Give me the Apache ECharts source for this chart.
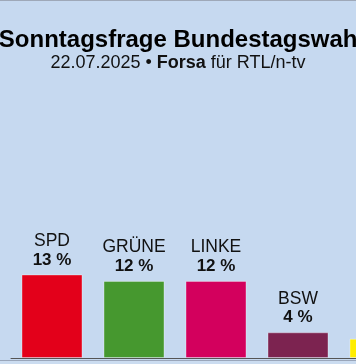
<!DOCTYPE html>
<html>
<head>
<meta charset="utf-8">
<script src="https://cdn.jsdelivr.net/npm/echarts@6/dist/echarts.min.js"></script>
<style>
html,body{margin:0;padding:0;background:#c6d9f0;overflow:hidden;width:356px;height:364px;}
#c{width:421px;height:364px;}
</style>
</head>
<body>
<div id="c"></div>
<script>
const titleText = 'Sonntagsfrage Bundestagswahl';
const subtitleDate = '22.07.2025 • ';
const subtitleInst = 'Forsa';
const subtitleRest = ' für RTL/n-tv';
const parties = ['SPD', 'GRÜNE', 'LINKE', 'BSW', 'FDP'];
const values = [13, 12, 12, 4, 3];
const colors = ['#e3001a', '#46982f', '#d3005d', '#7c2350', '#ffed00'];

const font = '"Liberation Sans", Arial, sans-serif';
const chart = echarts.init(document.getElementById('c'), null, {renderer: 'canvas'});
chart.setOption({
  backgroundColor: '#c6d9f0',
  animation: false,
  graphic: [
    {type: 'rect', shape: {x: 0, y: 0, width: 421, height: 1}, style: {fill: '#9ea8b8'}},
    {type: 'rect', shape: {x: 0, y: 360, width: 421, height: 1}, style: {fill: '#9aa6ba'}},
    {type: 'rect', shape: {x: 0, y: 361, width: 421, height: 3}, style: {fill: '#cbdcf0'}},
    {type: 'text', x: 181.5, y: 28, style: {text: titleText, font: 'bold 24px ' + font, fill: '#000', align: 'center', verticalAlign: 'alphabetic'}},
    {type: 'text', x: 178, y: 54, style: {
      text: subtitleDate + '{b|' + subtitleInst + '}' + subtitleRest,
      font: '18px ' + font, fill: '#111', align: 'center', verticalAlign: 'alphabetic',
      rich: {b: {font: 'bold 18px ' + font, fill: '#111'}}
    }}
  ],
  grid: {left: 11, right: 0, top: 101, bottom: 6, containLabel: false},
  xAxis: {
    type: 'category', data: parties,
    axisLine: {show: true, lineStyle: {color: '#555', width: 1}},
    axisTick: {show: false}, axisLabel: {show: false}
  },
  yAxis: {type: 'value', min: 0, max: 40, show: false, splitLine: {show: false}},
  series: [{
    type: 'bar',
    data: values.map((v, i) => ({value: v, itemStyle: {color: colors[i]}})),
    barWidth: 61,
    itemStyle: {borderColor: 'rgba(255,255,255,0.35)', borderWidth: 1},
    label: {
      show: true, position: 'top', distance: 5,
      formatter: p => '{n|' + parties[p.dataIndex] + '}\n{v|' + values[p.dataIndex] + ' %}',
      rich: {
        n: {fontFamily: font, fontSize: 17.5, color: '#111', lineHeight: 19, align: 'center'},
        v: {fontFamily: font, fontSize: 17, fontWeight: 'bold', color: '#111', lineHeight: 19, align: 'center'}
      }
    }
  }]
});
</script>
</body>
</html>
